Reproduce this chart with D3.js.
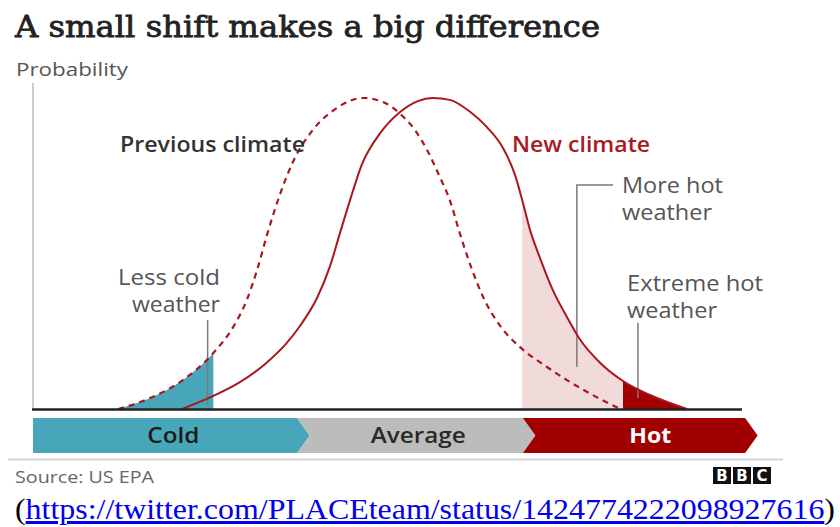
<!DOCTYPE html>
<html>
<head>
<meta charset="utf-8">
<script src="https://cdn.jsdelivr.net/npm/d3@7"></script>
<style>
  body { margin: 0; background: #fff; }
  svg { display: block; }
  text { font-family: "Open Sans", sans-serif; }
</style>
</head>
<body>
<svg width="840" height="527"></svg>
<script>
// values (x = temperature index 0-100, y = relative probability 0-100)
const prevClimateX = [12.0, 16.5, 21.1, 25.4, 28.2, 30.1, 31.6, 33.0, 34.8, 36.6, 39.4, 42.8, 46.5, 49.6, 51.7, 53.8, 55.5, 57.3, 58.7, 60.1, 61.6, 63.4, 65.8, 68.6, 72.4, 75.2, 79.9, 82.7];
const prevClimateY = [0, 3.5, 9.3, 18.0, 26.4, 35.0, 45.0, 56.3, 69.1, 79.4, 89.7, 96.8, 100, 98.4, 94.9, 89.7, 83.3, 74.6, 67.2, 56.6, 46.3, 36.0, 26.7, 19.9, 13.5, 9.3, 3.2, 0];
const newClimateX = [21.0, 25.4, 29.2, 32.7, 35.5, 37.6, 40.0, 41.8, 43.2, 44.7, 46.3, 48.9, 51.7, 54.2, 56.3, 58.7, 61.6, 63.9, 66.2, 67.9, 68.9, 70.0, 71.4, 73.2, 75.2, 77.0, 79.9, 83.1, 86.9, 92.1];
const newClimateY = [0, 4.2, 8.7, 14.5, 20.6, 26.7, 35.7, 45.7, 56.3, 67.5, 78.5, 88.7, 95.5, 99.0, 100, 99.4, 95.5, 90.7, 83.9, 75.2, 67.2, 57.6, 48.6, 38.3, 29.6, 22.5, 14.8, 9.0, 4.5, 0];

const coldLimit = 25.4;
const hotLimit = 68.9;
const extremeLimit = 83.1;

const bandLabels = ["Cold", "Average", "Hot"];
const bandEdges = [0, 37.2, 69.0, 100.3];

const svg = d3.select("svg");

const x = d3.scaleLinear().domain([0, 100]).range([33, 743]);
const y = d3.scaleLinear().domain([0, 100]).range([409, 98]);

const prevData = prevClimateX.map((d, i) => [d, prevClimateY[i]]);
const newData = newClimateX.map((d, i) => [d, newClimateY[i]]);

const line = d3.line().x(d => x(d[0])).y(d => y(d[1])).curve(d3.curveMonotoneX);
const area = d3.area().x(d => x(d[0])).y0(y(0)).y1(d => y(d[1])).curve(d3.curveMonotoneX);

// clip rectangles for the shaded tails
const defs = svg.append("defs");
function clipRange(id, a, b) {
  defs.append("clipPath").attr("id", id)
    .append("rect")
    .attr("x", x(a)).attr("y", 0)
    .attr("width", x(b) - x(a)).attr("height", y(0) + 1);
}
clipRange("clip-cold", 0, coldLimit);
clipRange("clip-hot", hotLimit, extremeLimit);
clipRange("clip-extreme", extremeLimit, 100);

svg.append("path").datum(prevData)
  .attr("d", area).attr("fill", "#48a6bb")
  .attr("clip-path", "url(#clip-cold)");
svg.append("path").datum(newData)
  .attr("d", area).attr("fill", "#f0dada")
  .attr("clip-path", "url(#clip-hot)");
svg.append("path").datum(newData)
  .attr("d", area).attr("fill", "#a00000")
  .attr("clip-path", "url(#clip-extreme)");

// annotation leaders
const leader = d3.line().x(d => x(d[0])).y(d => y(d[1]));
const leaders = [
  [[24.6, 28.6], [24.6, 1.3]],
  [[81.7, 72.0], [76.6, 72.0], [76.6, 13.5]],
  [[85.2, 27.7], [85.2, 3.5]]
];
svg.selectAll(".leader").data(leaders).enter().append("path")
  .attr("class", "leader")
  .attr("d", leader)
  .attr("fill", "none")
  .attr("stroke", "#7a7a7a")
  .attr("stroke-width", 1.5);

// curves
svg.append("path").datum(prevData)
  .attr("d", line).attr("fill", "none")
  .attr("stroke", "#a8181e").attr("stroke-width", 2.2)
  .attr("stroke-dasharray", "6,5");
svg.append("path").datum(newData)
  .attr("d", line).attr("fill", "none")
  .attr("stroke", "#a8181e").attr("stroke-width", 2);

// axes
svg.append("line")
  .attr("x1", x(0)).attr("x2", x(0))
  .attr("y1", 83).attr("y2", y(0))
  .attr("stroke", "#cccccc").attr("stroke-width", 2);
svg.append("line")
  .attr("x1", x(0) - 1).attr("x2", x(100) - 1)
  .attr("y1", y(0) + 0.5).attr("y2", y(0) + 0.5)
  .attr("stroke", "#222").attr("stroke-width", 2.6);

// bottom arrow band
const bandTop = 418, bandBottom = 453, tip = 12.5;
const bandColors = ["#48a6bb", "#bcbcbc", "#a00000"];
const bandText = ["#1a1a1a", "#2a2a2a", "#ffffff"];
const bandWidths = [52, 95, 42];
const mid = (bandTop + bandBottom) / 2;
bandLabels.forEach((lab, i) => {
  const x0 = x(bandEdges[i]), x1 = x(bandEdges[i + 1]);
  const pts = [[x0, bandTop], [x1, bandTop], [x1 + tip, mid], [x1, bandBottom], [x0, bandBottom]];
  if (i > 0) pts.push([x0 + tip, mid]);
  svg.append("polygon")
    .attr("points", pts.map(p => p.join(",")).join(" "))
    .attr("fill", bandColors[i]);
  svg.append("text")
    .attr("x", (x0 + x1 + tip) / 2 + (i === 2 ? 10 : 2))
    .attr("y", 443)
    .attr("text-anchor", "middle")
    .attr("font-size", 22)
    .attr("font-weight", i === 2 ? 700 : 600)
    .attr("fill", bandText[i])
    .attr("textLength", bandWidths[i])
    .attr("lengthAdjust", "spacingAndGlyphs")
    .text(lab);
});

// texts
function txt(str, px, py, opts) {
  const t = svg.append("text")
    .attr("x", px).attr("y", py)
    .attr("font-size", opts.size || 21)
    .attr("font-weight", opts.weight || 400)
    .attr("fill", opts.fill || "#555")
    .attr("text-anchor", opts.anchor || "start")
    .text(str);
  if (opts.len) t.attr("textLength", opts.len).attr("lengthAdjust", "spacingAndGlyphs");
  if (opts.family) t.style("font-family", opts.family);
  return t;
}

txt("A small shift makes a big difference", 15, 37, {size: 30, fill: "#222", len: 585, family: "'DejaVu Serif', serif"})
  .attr("stroke", "#222").attr("stroke-width", 0.8);
txt("Probability", 16, 76, {size: 18, fill: "#555", len: 112});

txt("Previous climate", 120, 152, {weight: 600, fill: "#333", len: 185});
txt("New climate", 512, 152, {weight: 600, fill: "#a8181e", len: 138});

txt("More hot", 622, 193, {len: 101});
txt("weather", 622, 220, {len: 90});
txt("Extreme hot", 627, 291, {len: 136});
txt("weather", 627, 318, {len: 90});
txt("Less cold", 220, 285, {anchor: "end", len: 102});
txt("weather", 220, 312, {anchor: "end", len: 88});

// footer
svg.append("line")
  .attr("x1", 8).attr("x2", 783)
  .attr("y1", 459.5).attr("y2", 459.5)
  .attr("stroke", "#d4d4d4").attr("stroke-width", 2);
txt("Source: US EPA", 15, 483, {size: 16, fill: "#666", len: 139});

const logo = svg.append("g");
["B", "B", "C"].forEach((ch, i) => {
  logo.append("rect")
    .attr("x", 713 + i * 20).attr("y", 467)
    .attr("width", 18).attr("height", 17)
    .attr("fill", "#111");
  logo.append("text")
    .attr("x", 713 + i * 20 + 9).attr("y", 481)
    .attr("text-anchor", "middle")
    .attr("font-size", 15).attr("font-weight", 700)
    .attr("fill", "#fff")
    .style("font-family", "'DejaVu Sans', sans-serif")
    .text(ch);
});

const link = svg.append("text")
  .attr("x", 15).attr("y", 519)
  .attr("font-size", 30)
  .attr("textLength", 820)
  .attr("lengthAdjust", "spacingAndGlyphs")
  .style("font-family", "'Liberation Serif', 'Times New Roman', serif");
link.append("tspan").attr("fill", "#000").text("(");
link.append("tspan").attr("fill", "#0000ee")
  .style("text-decoration", "underline")
  .text("https://twitter.com/PLACEteam/status/1424774222098927616");
link.append("tspan").attr("fill", "#000").text(")");
</script>
</body>
</html>
